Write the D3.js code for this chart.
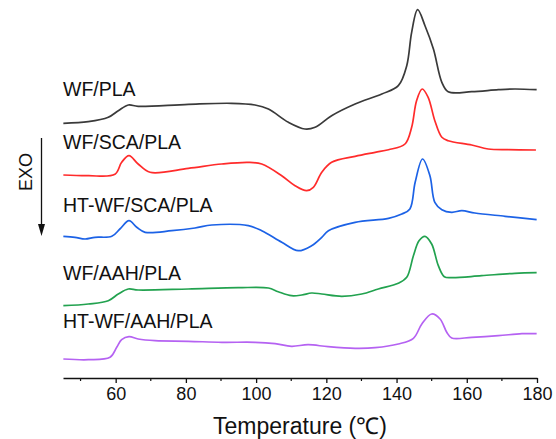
<!DOCTYPE html>
<html>
<head>
<meta charset="utf-8">
<script src="https://cdn.jsdelivr.net/npm/d3@7"></script>
<style>
  body { margin: 0; background: #fff; }
  svg text { font-family: 'Liberation Sans', Arial, sans-serif; fill: #111; }
</style>
</head>
<body>
<div class="chart"></div>
<script>
// DSC cooling curves, heat flow in arbitrary units (curves stacked with offsets)
const seriesNames = ['WF/PLA', 'WF/SCA/PLA', 'HT-WF/SCA/PLA', 'WF/AAH/PLA', 'HT-WF/AAH/PLA']
const seriesColors = ['#3a3a3a', '#ff2b2b', '#1c62e6', '#22a24f', '#b562f2']

const tempWF = [45.1, 52.2, 57.9, 60.75, 63.6, 66.4, 80.7, 93.0, 99.7, 103.5, 109.2, 113.9, 116.8, 121.5, 128.2, 135.8, 140.5, 142.9, 144.3, 146.0, 148.1, 150.5, 152.9, 154.7, 161.4, 169.0, 173.7, 179.9]
const flowWF = [25.57, 25.73, 26.17, 26.83, 27.4, 27.27, 27.47, 27.57, 27.4, 27.0, 25.67, 25.0, 25.17, 26.33, 27.5, 28.5, 29.33, 31.33, 34.67, 36.93, 35.33, 33.0, 29.67, 28.73, 28.73, 28.93, 29.0, 28.93]

const tempSCA = [45.1, 52.2, 59.8, 61.7, 63.8, 66.4, 69.8, 80.7, 90.2, 97.8, 101.6, 107.3, 111.1, 114.4, 116.3, 118.7, 121.5, 128.2, 133.9, 137.7, 142.4, 144.3, 145.7, 147.3, 149.0, 150.9, 152.9, 154.7, 161.4, 166.1, 171.8, 179.7]
const flowSCA = [20.4, 20.33, 20.47, 21.67, 22.33, 21.5, 20.67, 21.07, 21.5, 21.67, 21.5, 20.33, 19.33, 18.83, 19.17, 20.67, 21.67, 22.27, 22.67, 22.93, 23.5, 25.17, 27.83, 29.0, 28.17, 25.83, 24.17, 23.83, 23.4, 23.0, 22.93, 22.9]

const tempHTSCA = [45.1, 48.4, 51.3, 54.1, 58.9, 61.2, 63.8, 66.0, 68.4, 76.0, 82.6, 87.4, 97.8, 101.6, 107.3, 112.0, 115.8, 118.7, 120.6, 128.2, 137.7, 141.5, 143.8, 145.3, 147.4, 149.5, 150.9, 152.9, 155.7, 158.6, 162.3, 170.9, 179.9]
const flowHTSCA = [14.27, 14.17, 14.0, 14.17, 14.27, 15.0, 15.83, 15.17, 14.67, 14.83, 15.1, 15.4, 15.33, 14.83, 13.67, 12.83, 13.33, 14.17, 14.83, 15.67, 16.07, 16.5, 17.0, 19.67, 22.0, 20.33, 17.67, 16.93, 16.67, 16.83, 16.6, 16.27, 15.93]

const tempAAH = [45.1, 52.2, 57.9, 60.75, 63.6, 66.4, 80.7, 94.9, 103.5, 106.3, 110.1, 113.0, 115.8, 118.7, 124.4, 130.1, 134.8, 140.5, 142.9, 144.8, 146.4, 148.1, 150.0, 151.9, 153.6, 155.7, 164.2, 173.7, 179.9]
const flowAAH = [7.33, 7.5, 7.83, 8.5, 9.0, 8.9, 9.0, 9.13, 9.1, 8.73, 8.33, 8.4, 8.6, 8.5, 8.27, 8.5, 9.0, 9.57, 10.17, 12.33, 13.83, 14.27, 13.5, 11.33, 10.23, 10.13, 10.33, 10.57, 10.63]

const tempHTAAH = [45.1, 52.2, 58.4, 60.3, 61.7, 63.8, 66.4, 71.2, 80.7, 90.2, 99.7, 105.4, 110.1, 114.8, 120.5, 128.2, 133.9, 140.5, 144.8, 147.2, 150.0, 152.4, 154.3, 155.7, 161.4, 169.0, 175.7, 179.9]
const flowHTAAH = [2.0, 1.93, 2.17, 3.17, 3.93, 4.23, 4.0, 3.83, 3.77, 3.67, 3.67, 3.53, 3.27, 3.43, 3.23, 3.07, 3.13, 3.5, 4.07, 5.5, 6.5, 6.0, 4.67, 4.1, 4.17, 4.33, 4.53, 4.53]

// label height (same units as heat flow) for each series name
const labelLevels = [28.3, 23.0, 16.7, 9.9, 5.1]

const xTicksMajor = [60, 80, 100, 120, 140, 160, 180]
const xTicksMinor = [50, 70, 90, 110, 130, 150, 170]

const temps = [tempWF, tempSCA, tempHTSCA, tempAAH, tempHTAAH]
const flows = [flowWF, flowSCA, flowHTSCA, flowAAH, flowHTAAH]

const width = 556
const height = 439
const margin = {top: 20, right: 19, bottom: 60, left: 63}

const svg = d3.select('.chart').append('svg')
  .attr('width', width)
  .attr('height', height)

const scaleX = d3.scaleLinear()
  .domain([45, 180])
  .range([margin.left, width - margin.right])

const scaleY = d3.scaleLinear()
  .domain([0, 36])
  .range([height - margin.bottom, height - margin.bottom - 360])

const line = d3.line()
  .x(d => scaleX(d[0]))
  .y(d => scaleY(d[1]))
  .curve(d3.curveCatmullRom.alpha(0.5))

const plot = svg.append('g').attr('class', 'g-plot')

seriesNames.forEach((name, i) => {
  const pts = d3.zip(temps[i], flows[i])
  plot.append('path')
    .datum(pts)
    .attr('fill', 'none')
    .attr('stroke', seriesColors[i])
    .attr('stroke-width', 1.7)
    .attr('stroke-linejoin', 'round')
    .attr('d', line)

  plot.append('text')
    .attr('x', scaleX(45))
    .attr('y', scaleY(labelLevels[i]))
    .attr('font-size', 19.5)
    .text(name)
})

// x axis
const axisY = height - margin.bottom - 1
const axis = svg.append('g').attr('class', 'axis axis--x')
  .attr('transform', `translate(0,${axisY})`)

axis.call(d3.axisBottom(scaleX)
  .tickValues(xTicksMajor)
  .tickSizeInner(5)
  .tickSizeOuter(0)
  .tickPadding(4)
  .tickFormat(d3.format('d')))

axis.select('.domain').attr('stroke', '#111').attr('stroke-width', 1.3)
axis.selectAll('.tick line').attr('stroke', '#111').attr('stroke-width', 1.3)
axis.selectAll('.tick text')
  .attr('font-size', 18)
  .attr('font-family', "'Liberation Sans', Arial, sans-serif")
  .attr('fill', '#111')

axis.selectAll('line.minor')
  .data(xTicksMinor)
  .enter().append('line')
  .attr('class', 'minor')
  .attr('x1', d => scaleX(d))
  .attr('x2', d => scaleX(d))
  .attr('y1', 0)
  .attr('y2', 3)
  .attr('stroke', '#111')
  .attr('stroke-width', 1.2)

svg.append('text')
  .attr('x', (scaleX.range()[0] + scaleX.range()[1]) / 2)
  .attr('y', height - 5)
  .attr('text-anchor', 'middle')
  .attr('font-size', 23)
  .text('Temperature (℃)')

// EXO arrow
const exo = svg.append('g').attr('class', 'g-exo')
exo.append('text')
  .attr('transform', 'translate(32,172) rotate(-90)')
  .attr('text-anchor', 'middle')
  .attr('font-size', 18)
  .text('EXO')

exo.append('line')
  .attr('x1', 41.5).attr('x2', 41.5)
  .attr('y1', 138).attr('y2', 228)
  .attr('stroke', '#111')
  .attr('stroke-width', 1.3)

exo.append('path')
  .attr('d', 'M38,224 L45,224 L41.5,236 Z')
  .attr('fill', '#111')
</script>
</body>
</html>
